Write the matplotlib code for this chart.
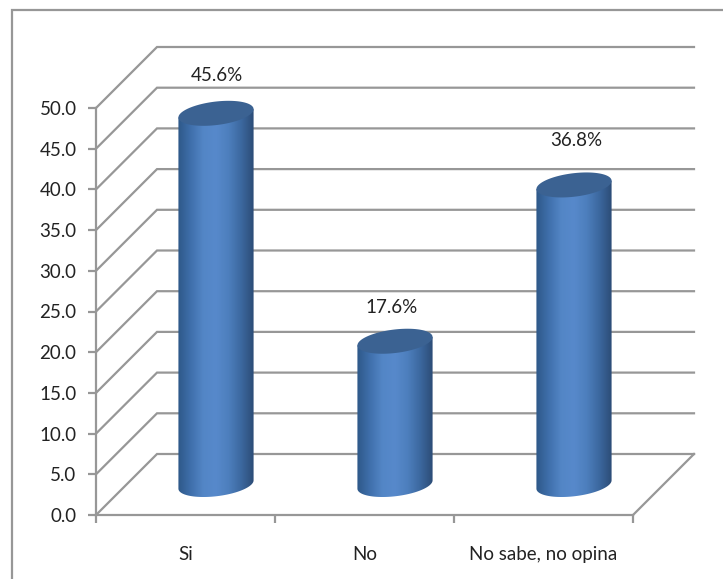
import numpy as np
from matplotlib import pyplot as plt
from matplotlib.colors import LinearSegmentedColormap
from matplotlib.patches import Polygon, Rectangle

# data
categories = ['Si', 'No', 'No sabe, no opina']
values = [45.6, 17.6, 36.8]
y_ticks = [0, 5, 10, 15, 20, 25, 30, 35, 40, 45, 50]

# shear of the 3d box, in data units for one full step of depth
DX = 61 / 179.0
DY = 61 / 8.14
GREY = '#979797'
LW = 1.6
FS = 13.5

plt.rcParams['font.family'] = ['Lato', 'DejaVu Sans']

W, H = 723, 579
fig = plt.figure(figsize=(W / 100, H / 100), dpi=100)
ax = fig.add_axes([96 / W, 1 - 515 / H, 537 / W, 407 / H])
ax.set_xlim(0, 3)
ax.set_ylim(0, 50)
ax.patch.set_alpha(0)


def project(x, depth, y):
    return x + DX * depth, y + DY * depth


# outer frame
fig.add_artist(Rectangle((12 / W, -0.1), 1.1, 1.1 - 10 / H, transform=fig.transFigure,
                         fill=False, ec=GREY, lw=LW))

# gridlines on the side wall and the back wall
for v in y_ticks:
    xs, ys = project(np.array([0, 0, 3]), np.array([0, 1, 1]), v)
    ax.plot(xs, ys, color=GREY, lw=LW, clip_on=False, zorder=1, solid_joinstyle='miter')
xs, ys = project(np.array([3, 3]), np.array([0, 1]), 0)
ax.plot(xs, ys, color=GREY, lw=LW, clip_on=False, zorder=1)

# cylinders
body_cmap = LinearSegmentedColormap.from_list(
    'body', ['#2e5888', '#3f6fab', '#5386c6', '#5789cb', '#4d7fbd', '#3c689f', '#2c4c76'])
a = 0.198  # half width of the base circle along x
b = 0.205  # half depth of the base circle
t = np.linspace(0, 2 * np.pi, 200)

for i, val in enumerate(values):
    cx = i + 0.5
    ex = cx + a * np.cos(t) + DX * b * np.sin(t)
    ey = DY * b * np.sin(t)
    ex, ey0 = ex + DX * 0.5, ey + DY * 0.5
    left, right = ex.min(), ex.max()
    il, ir = ex.argmin(), ex.argmax()

    # side of the cylinder: lower half of the base plus upper half of the top outline
    lower = np.r_[np.arange(il, len(t)), np.arange(0, ir + 1)] if il > ir else np.arange(il, ir + 1)
    side = np.r_[np.c_[ex[lower], ey0[lower]],
                 [[right, ey0[ir] + val], [left, ey0[il] + val]]]
    patch = Polygon(side, closed=True, transform=ax.transData, fc='none', ec='none')
    ax.add_patch(patch)
    im = ax.imshow(np.linspace(0, 1, 256).reshape(1, -1), cmap=body_cmap, aspect='auto',
                   extent=(left, right, 0, 60), zorder=3, interpolation='bilinear')
    im.set_clip_path(patch)

    ax.fill(ex, ey0 + val, color='#3b6292', lw=0, zorder=4, clip_on=False)

    ax.text(cx + DX * 0.5 + [0.006, -0.02, 0.012][i], ey0.mean() + val + [4.7, 4.2, 5.4][i],
            '%.1f%%' % val, ha='center', va='center', fontsize=FS, color='#222222')

ax.set_xlim(0, 3)
ax.set_ylim(0, 50)

# axes
for s in ['top', 'right']:
    ax.spines[s].set_visible(False)
for s in ['left', 'bottom']:
    ax.spines[s].set_color(GREY)
    ax.spines[s].set_linewidth(LW)
    ax.spines[s].set_zorder(2)
ax.set_yticks(y_ticks)
ax.set_yticklabels(['%.1f' % v for v in y_ticks])
ax.set_xticks([0, 1, 2, 3])
ax.set_xticklabels([])
ax.set_xticks([0.5, 1.5, 2.5], minor=True)
ax.set_xticklabels(categories, minor=True)
ax.tick_params(axis='y', length=6, width=LW, color=GREY, labelsize=FS, pad=8, labelcolor='#222222')
ax.tick_params(axis='x', which='major', length=6, width=LW, color=GREY)
ax.tick_params(axis='x', which='minor', length=0, labelsize=FS, pad=22, labelcolor='#222222')

fig.savefig('out.png', dpi=100)
